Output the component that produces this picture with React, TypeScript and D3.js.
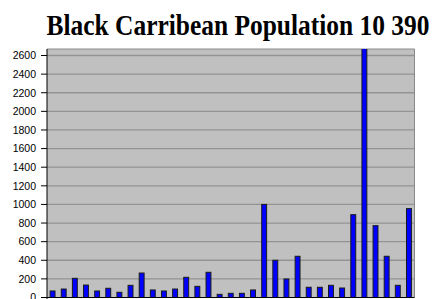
import React from "react";
import * as d3 from "d3";

const title = "Black Carribean Population 10 390";
const categories: string[] = Array.from({ length: 33 }, (_, i) => `A${i + 1}`);
const values: number[] = [
  70, 91, 206, 134, 70, 99, 56, 131, 263, 81, 70,
  91, 217, 120, 271, 34, 45, 45, 81, 1000, 400, 199,
  443, 110, 110, 131, 102, 890, 2900, 772, 443, 131, 955,
];
const yTicks: number[] = [0, 200, 400, 600, 800, 1000, 1200, 1400, 1600, 1800, 2000, 2200, 2400, 2600];

const W = 434;
const H = 299;
const left = 47;
const right = 414.5;
const top = 49;
const bottom = 297.5;
const yTop = 2670;

export default function App() {
  const x = d3.scaleBand<string>().domain(categories).range([left, right]).paddingInner(0.56).paddingOuter(0.28);
  const y = d3.scaleLinear().domain([0, yTop]).range([bottom, top]);
  return (
    <svg width={W} height={H} style={{ position: "absolute", left: 0, top: 0, display: "block" }}>
      <rect x={0} y={0} width={W} height={H} fill="#ffffff" />
      <text
        x={46.5}
        y={35}
        fontFamily="'Liberation Serif', serif"
        fontWeight="bold"
        fontSize={30}
        textLength={383}
        lengthAdjust="spacingAndGlyphs"
        fill="#000"
      >
        {title}
      </text>
      <defs>
        <clipPath id="plotclip">
          <rect x={left} y={top} width={right - left} height={bottom - top + 2} />
        </clipPath>
      </defs>
      <rect x={left} y={top} width={right - left} height={bottom - top} fill="#c0c0c0" />
      {yTicks.filter((t) => t > 0).map((t) => (
        <line key={t} x1={left} x2={right} y1={y(t)} y2={y(t)} stroke="#939393" strokeWidth={1.3} />
      ))}
      <line x1={left} x2={right} y1={top} y2={top} stroke="#8a8a8a" strokeWidth={1} />
      <line x1={right} x2={right} y1={top} y2={bottom} stroke="#8a8a8a" strokeWidth={1} />
      <g clipPath="url(#plotclip)">
        {values.map((v, i) => (
          <rect
            key={i}
            x={x(categories[i])!}
            y={y(v)}
            width={x.bandwidth()}
            height={bottom - y(v)}
            fill="#0000ff"
            stroke="#1a1a1a"
            strokeWidth={1}
          />
        ))}
      </g>
      <line x1={left} x2={left} y1={top} y2={bottom + 2} stroke="#000" strokeWidth={1} />
      <line x1={left} x2={right} y1={bottom} y2={bottom} stroke="#000" strokeWidth={1} />
      {yTicks.map((t) => (
        <g key={t}>
          <line x1={left - 6} x2={left} y1={y(t)} y2={y(t)} stroke="#000" strokeWidth={1} />
          <text
            x={36}
            y={y(t)}
            dy="0.36em"
            textAnchor="end"
            fontFamily="'Liberation Sans', Arial, sans-serif"
            fontSize={10.5}
            fill="#000"
          >
            {t}
          </text>
        </g>
      ))}
    </svg>
  );
}
